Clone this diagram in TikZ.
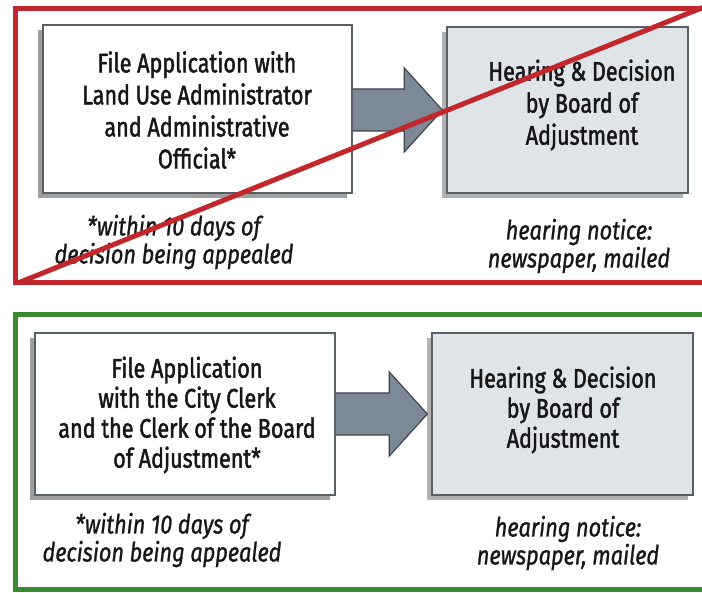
\documentclass[tikz,border=0pt]{standalone}
\usepackage{fontspec}
\setmainfont{Fira Sans}[FakeStretch=0.8]
\newfontfamily\boxfont{Fira Sans}[FakeStretch=0.8, FakeBold=1.6]
\newfontfamily\notefont{Fira Sans}[FakeStretch=0.82, FakeBold=1.0]
\usetikzlibrary{calc,shadows}

\definecolor{framered}{HTML}{C1272D}
\definecolor{framegreen}{HTML}{3A8A33}
\definecolor{boxline}{HTML}{5A5F66}
\definecolor{boxgray}{HTML}{DFE4E9}
\definecolor{arrowfill}{HTML}{7E8997}
\definecolor{arrowline}{HTML}{3E4450}
\definecolor{inktext}{HTML}{161616}

\tikzset{
  frame/.style={line width=5pt},
  stepbox/.style={draw=boxline, line width=1.4pt, inner sep=0pt,
    drop shadow={shadow xshift=-5pt, shadow yshift=-5pt, fill=black!40, opacity=0.75}},
  boxtext/.style={align=center, inner sep=0pt, text=inktext,
    font=\boxfont\fontsize{27}{32}\selectfont},
  notetext/.style={align=center, inner sep=0pt, text=inktext,
    font=\notefont\fontsize{26.5}{28}\selectfont\itshape},
  bigarrow/.style={fill=arrowfill, draw=arrowline, line width=1.2pt, line join=miter},
}

% block arrow from the east side of #1 to the west side of #2
\newcommand\blockarrow[2]{%
  \draw[bigarrow]
    ($(#1.east |- #2.west)+(-2,-21)$) --
    ($(#2.west)+(-42,-21)$) -- ($(#2.west)+(-42,-42)$) --
    ($(#2.west)+(-4,0)$) --
    ($(#2.west)+(-42,42)$) -- ($(#2.west)+(-42,21)$) --
    ($(#1.east |- #2.west)+(-2,21)$) -- cycle;}

\begin{document}
\begin{tikzpicture}[x=1pt, y=-1pt]
\useasboundingbox (0,0) rectangle (702,593);
\fill[white] (0,0) rectangle (702,593);
\clip (0,0) rectangle (702,593);

% ---------- upper panel (crossed out) ----------
\draw[frame, draw=framered] (720,9) -- (15,9) -- (15,283) -- (720,283);

\node[stepbox, fill=white, minimum width=309, minimum height=168] (L1) at (197.5,109) {};
\node[stepbox, fill=boxgray, minimum width=241, minimum height=166] (R1) at (567.5,110) {};
\blockarrow{L1}{R1}
\node[stepbox, fill=white, minimum width=309, minimum height=168] at (L1) {};

\node[boxtext] (t1) at (197,110)
  {File Application with\\Land Use Administrator\\and Administrative\\Official*};
\node[boxtext] (t2) at (582,105) {Hearing \& Decision\\by Board of\\Adjustment};
\node[notetext] (n1) at (174,242) {*within 10 days of\\decision being appealed};
\node[notetext] (n2) at (579,246) {hearing notice:\\newspaper, mailed};

\coordinate (xs) at (18,283);
\coordinate (xe) at (704,7);
\draw[framered, line width=5pt] (xs) -- (xe);

% ---------- lower panel ----------
\draw[frame, draw=framegreen] (720,315) -- (15,315) -- (15,589) -- (720,589);

\node[stepbox, fill=white, minimum width=300, minimum height=162] (L2) at (185,414) {};
\node[stepbox, fill=boxgray, minimum width=261, minimum height=162] (R2) at (562.5,414) {};
\blockarrow{L2}{R2}
\node[stepbox, fill=white, minimum width=300, minimum height=162] at (L2) {};

\node[boxtext, font=\boxfont\fontsize{27}{30}\selectfont] (t3) at (187,415)
  {File Application\\with the City Clerk\\and the Clerk of the Board\\of Adjustment*};
\node[boxtext, font=\boxfont\fontsize{27}{30}\selectfont] (t4) at (563,410)
  {Hearing \& Decision\\by Board of\\Adjustment};
\node[notetext] (n3) at (162,540) {*within 10 days of\\decision being appealed};
\node[notetext] (n4) at (568,543) {hearing notice:\\newspaper, mailed};
\end{tikzpicture}
\end{document}
